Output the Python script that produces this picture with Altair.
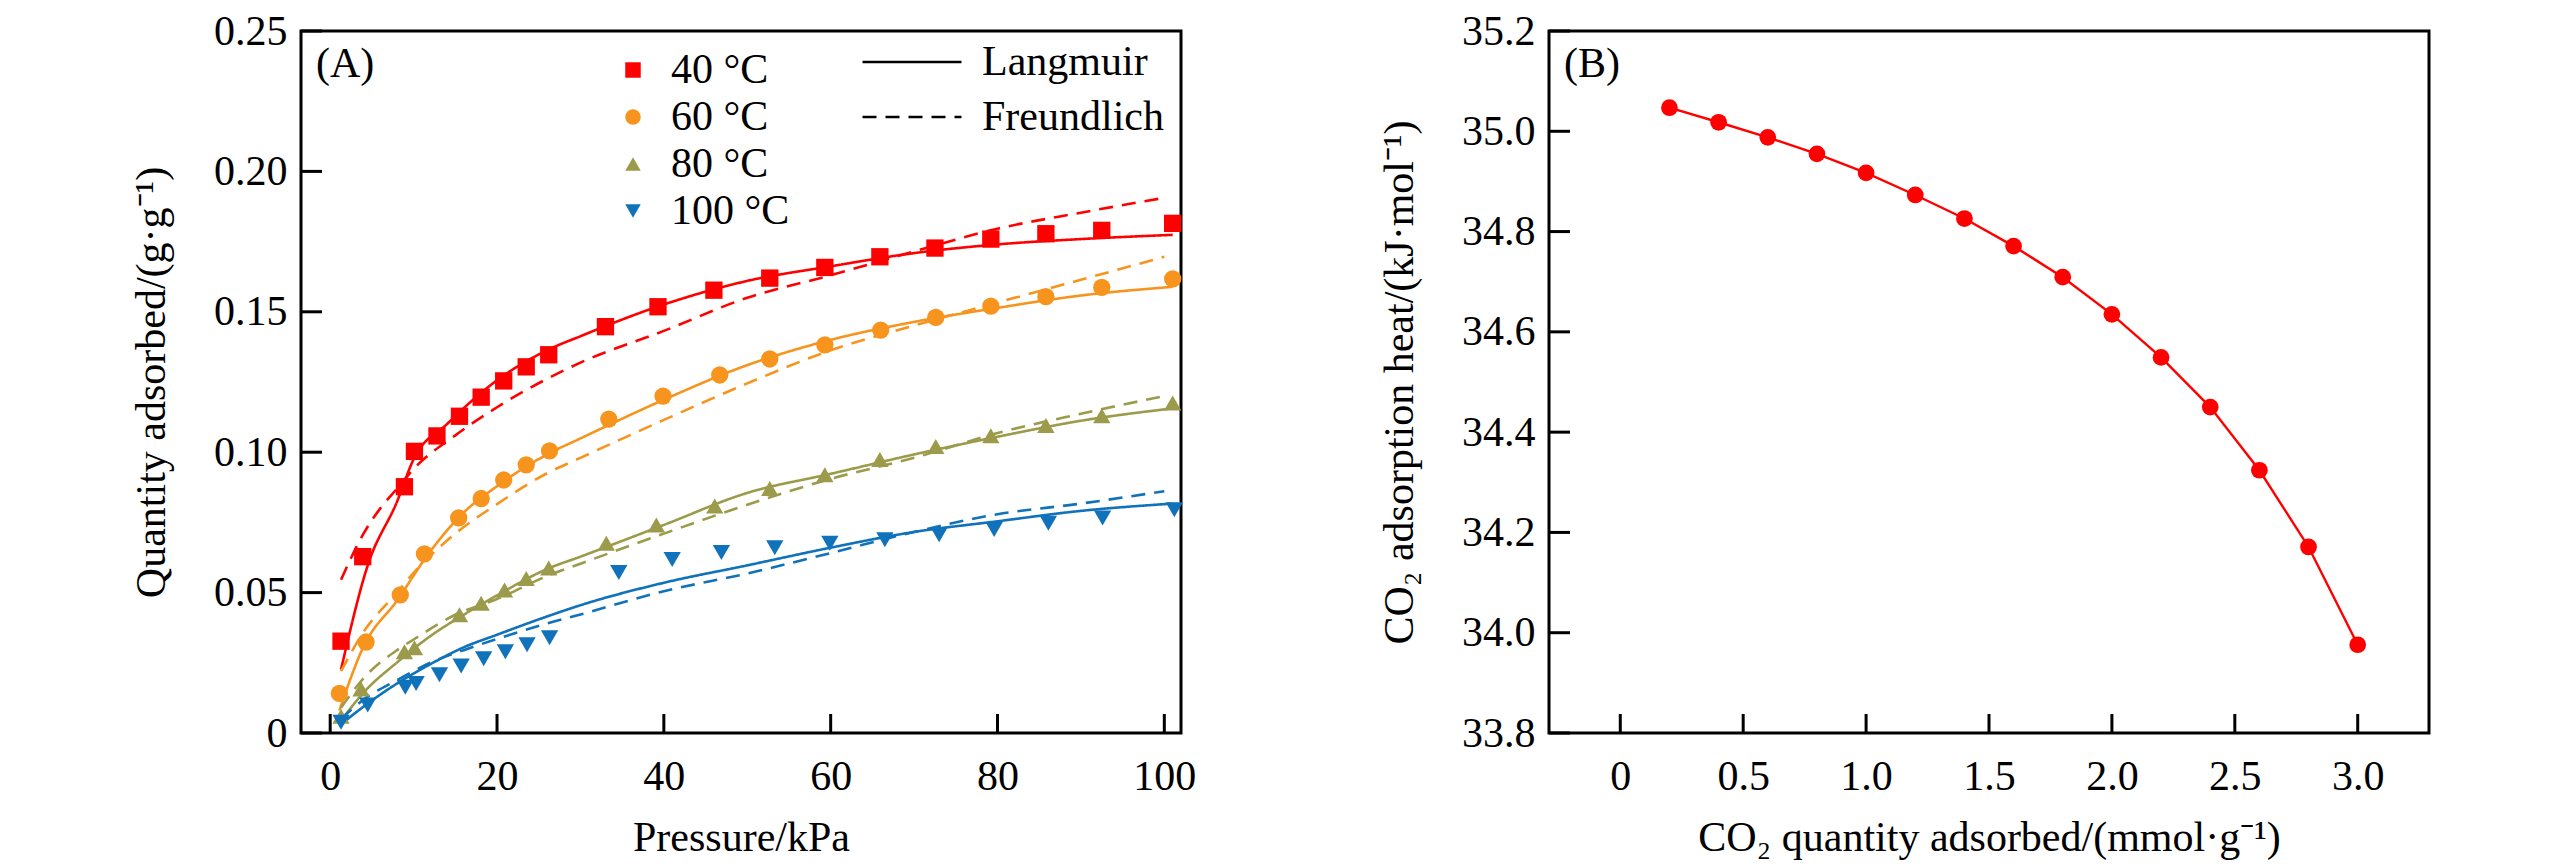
import altair as alt
import pandas as pd

# ---------------- Panel A: isotherm data ----------------
TEMPS = ["40 °C", "60 °C", "80 °C", "100 °C"]
COLORS = ["#FF0000", "#F7941E", "#9B9B4B", "#1072BA"]
SHAPES = ["square", "circle", "triangle-up", "triangle-down"]
MODELS = ["Langmuir", "Freundlich"]

P40 = [1.3, 3.9, 8.9, 10.1, 12.8, 15.5, 18.1, 20.8, 23.5, 26.2, 33.0, 39.3, 46.0, 52.7, 59.3, 65.9, 72.5, 79.2, 85.8, 92.5, 101.0]
Q40 = [0.0327, 0.0628, 0.0877, 0.1003, 0.1058, 0.1128, 0.1196, 0.1254, 0.1304, 0.1347, 0.1447, 0.1518, 0.1577, 0.1620, 0.1658, 0.1696, 0.1727, 0.1759, 0.1778, 0.1790, 0.1815]

P60 = [1.1, 4.3, 8.4, 11.3, 15.4, 18.1, 20.8, 23.5, 26.3, 33.4, 39.9, 46.7, 52.7, 59.3, 66.0, 72.6, 79.2, 85.8, 92.5, 101.0]
Q60 = [0.0141, 0.0324, 0.0492, 0.0638, 0.0766, 0.0835, 0.0901, 0.0955, 0.1005, 0.1118, 0.1200, 0.1275, 0.1332, 0.1382, 0.1435, 0.1480, 0.1520, 0.1554, 0.1587, 0.1617]

P80 = [1.3, 3.7, 8.9, 10.1, 15.5, 18.1, 20.9, 23.5, 26.2, 33.1, 39.1, 46.1, 52.7, 59.3, 65.9, 72.6, 79.2, 85.8, 92.5, 101.0]
Q80 = [0.0060, 0.0157, 0.0289, 0.0304, 0.0421, 0.0462, 0.0509, 0.0550, 0.0588, 0.0676, 0.0741, 0.0808, 0.0871, 0.0920, 0.0974, 0.1020, 0.1059, 0.1095, 0.1130, 0.1175]

P100 = [1.3, 4.5, 9.0, 10.3, 13.1, 15.7, 18.4, 21.0, 23.6, 26.3, 34.6, 41.0, 46.9, 53.3, 59.9, 66.5, 73.0, 79.6, 86.1, 92.6, 101.2]
Q100 = [0.0038, 0.0100, 0.0163, 0.0176, 0.0207, 0.0239, 0.0264, 0.0289, 0.0314, 0.0339, 0.0572, 0.0618, 0.0643, 0.0660, 0.0676, 0.0688, 0.0706, 0.0725, 0.0747, 0.0766, 0.0795]

# fitted curves
L40_P = [1.3, 4.5, 8, 10, 14, 20, 26, 30, 40, 50, 60, 70, 80, 90, 101]
L40_Q = [0.0226, 0.0597, 0.0823, 0.0975, 0.1100, 0.1256, 0.1363, 0.1413, 0.1526, 0.1610, 0.1662, 0.1709, 0.1740, 0.1759, 0.1774]
F40_P = [1.3, 4, 6, 8, 10, 15, 20, 30, 40, 50, 60, 70, 80, 90, 100]
F40_Q = [0.0546, 0.0710, 0.0800, 0.0870, 0.0940, 0.1060, 0.1160, 0.1319, 0.1432, 0.1550, 0.1630, 0.1715, 0.1796, 0.1853, 0.1906]

L60_P = [1.1, 4, 8, 12, 16, 20, 26, 30, 40, 50, 60, 70, 80, 90, 101]
L60_Q = [0.0080, 0.0308, 0.0471, 0.0647, 0.0785, 0.0879, 0.0992, 0.1049, 0.1187, 0.1310, 0.1400, 0.1464, 0.1514, 0.1558, 0.1589]
F60_P = [1.3, 4, 8, 10, 15, 20, 26, 30, 40, 50, 60, 70, 80, 90, 100]
F60_Q = [0.0220, 0.0360, 0.0500, 0.0570, 0.0710, 0.0815, 0.0925, 0.0980, 0.1115, 0.1245, 0.1363, 0.1451, 0.1533, 0.1614, 0.1696]

L80_P = [1.3, 4, 8, 12, 16, 20, 26, 30, 40, 50, 60, 70, 80, 90, 101]
L80_Q = [0.0044, 0.0144, 0.0251, 0.0345, 0.0421, 0.0490, 0.0584, 0.0628, 0.0741, 0.0855, 0.0923, 0.0992, 0.1055, 0.1112, 0.1156]
F80_P = [1.3, 4, 8, 10, 15, 20, 26, 30, 40, 50, 60, 70, 80, 90, 100]
F80_Q = [0.0090, 0.0195, 0.0295, 0.0333, 0.0421, 0.0477, 0.0559, 0.0603, 0.0710, 0.0813, 0.0905, 0.0980, 0.1068, 0.1137, 0.1200]

L100_P = [1.3, 4, 8, 12, 16, 20, 26, 30, 40, 50, 60, 70, 80, 90, 101]
L100_Q = [0.0031, 0.0094, 0.0176, 0.0245, 0.0305, 0.0350, 0.0415, 0.0455, 0.0535, 0.0597, 0.0660, 0.0716, 0.0754, 0.0791, 0.0817]
F100_P = [1.3, 4, 8, 12, 16, 20, 26, 30, 40, 50, 60, 70, 80, 90, 100]
F100_Q = [0.0050, 0.0119, 0.0188, 0.0250, 0.0295, 0.0335, 0.0390, 0.0422, 0.0505, 0.0568, 0.0641, 0.0716, 0.0779, 0.0817, 0.0861]

XTICKS_A = [0, 20, 40, 60, 80, 100]
YTICKS_A = [0, 0.05, 0.10, 0.15, 0.20, 0.25]

# ---------------- Panel B: adsorption heat ----------------
XB = [0.2, 0.4, 0.6, 0.8, 1.0, 1.2, 1.4, 1.6, 1.8, 2.0, 2.2, 2.4, 2.6, 2.8, 3.0]
YB = [35.047, 35.018, 34.988, 34.955, 34.917, 34.873, 34.826, 34.771, 34.709, 34.635, 34.549, 34.450, 34.324, 34.171, 33.976]
XTICKS_B = [0, 0.5, 1.0, 1.5, 2.0, 2.5, 3.0]
YTICKS_B = [33.8, 34.0, 34.2, 34.4, 34.6, 34.8, 35.0, 35.2]

FONT = "Liberation Serif"
FS = 42
W, H = 880, 702

# ---- build tables ----
pts = []
for t, P, Q in zip(TEMPS, [P40, P60, P80, P100], [Q40, Q60, Q80, Q100]):
    for p, q in zip(P, Q):
        pts.append({"P": p, "Q": q, "temp": t})
pts = pd.DataFrame(pts)

curves = []
curve_src = [
    ("40 °C", "Langmuir", L40_P, L40_Q), ("40 °C", "Freundlich", F40_P, F40_Q),
    ("60 °C", "Langmuir", L60_P, L60_Q), ("60 °C", "Freundlich", F60_P, F60_Q),
    ("80 °C", "Langmuir", L80_P, L80_Q), ("80 °C", "Freundlich", F80_P, F80_Q),
    ("100 °C", "Langmuir", L100_P, L100_Q), ("100 °C", "Freundlich", F100_P, F100_Q),
]
for t, m, P, Q in curve_src:
    for p, q in zip(P, Q):
        curves.append({"P": p, "Q": q, "fit_temp": t, "model": m})
curves = pd.DataFrame(curves)

xA = alt.Scale(domain=[-3.5, 102], nice=False, zero=False)
yA = alt.Scale(domain=[0, 0.25], nice=False, zero=False)
cscale = alt.Scale(domain=TEMPS, range=COLORS)
sscale = alt.Scale(domain=TEMPS, range=SHAPES)
dscale = alt.Scale(domain=MODELS, range=[[1, 0], [14, 9]])

axA_x = alt.Axis(values=XTICKS_A, title="Pressure/kPa", labelPadding=23, titlePadding=20, format="d")
axA_y = alt.Axis(values=YTICKS_A, title="Quantity adsorbed/(g·g⁻¹)", labelPadding=14, titlePadding=40,
                 labelExpr="datum.value == 0 ? '0' : format(datum.value, '.2f')")

leg1 = alt.Legend(title=None, orient="none", legendX=311, legendY=18, rowPadding=5,
                  symbolSize=240, labelOffset=17, padding=0, labelFont=FONT, labelFontSize=FS,
                  labelColor="black", labelLimit=400)
# wide horizontal stroke path so the sample line is long while rows stay close
leg2 = alt.Legend(title=None, orient="none", legendX=590, legendY=10, rowPadding=13,
                  symbolSize=1089, symbolType="M-3,0H3", symbolStrokeColor="black", symbolStrokeWidth=2.6,
                  symbolFillColor="transparent",
                  labelOffset=49, padding=0, labelFont=FONT, labelFontSize=FS, labelColor="black",
                  labelLimit=400)

XA = alt.X("P:Q", scale=xA, axis=axA_x)
YA = alt.Y("Q:Q", scale=yA, axis=axA_y)

line_layers = []
for t, c in zip(TEMPS, COLORS):
    line_layers.append(
        alt.Chart(curves).transform_filter(alt.datum.fit_temp == t).mark_line(
            strokeWidth=2.6, interpolate="monotone", color=c).encode(
            x=XA, y=YA,
            strokeDash=alt.StrokeDash("model:N", scale=dscale, legend=leg2),
        )
    )
points = alt.Chart(pts).mark_point(filled=True, size=300, opacity=1).encode(
    x=XA, y=YA,
    color=alt.Color("temp:N", scale=cscale, legend=leg1),
    shape=alt.Shape("temp:N", scale=sscale, legend=leg1),
)
tkxA = alt.Chart(pd.DataFrame({"P": XTICKS_A})).mark_rule(color="black", strokeWidth=3).encode(
    x=XA, y=alt.value(H), y2=alt.value(H - 19))
tkyA = alt.Chart(pd.DataFrame({"Q": YTICKS_A})).mark_rule(color="black", strokeWidth=3).encode(
    y=YA, x=alt.value(0), x2=alt.value(21))
labA = alt.Chart(pd.DataFrame({"t": ["(A)"]})).mark_text(
    align="left", baseline="middle", font=FONT, fontSize=FS, color="black").encode(
    text="t:N", x=alt.value(15), y=alt.value(33))

panelA = alt.layer(*line_layers, points, tkxA, tkyA, labA).properties(width=W, height=H)

# ---- panel B ----
dfB = pd.DataFrame({"x": XB, "y": YB})
xB = alt.Scale(domain=[-0.29, 3.29], nice=False, zero=False)
yB = alt.Scale(domain=[33.8, 35.2], nice=False, zero=False)
axB_x = alt.Axis(values=XTICKS_B, title="CO₂ quantity adsorbed/(mmol·g⁻¹)", labelPadding=23, titlePadding=20,
                 labelExpr="datum.value == 0 ? '0' : format(datum.value, '.1f')")
axB_y = alt.Axis(values=YTICKS_B, title="CO₂ adsorption heat/(kJ·mol⁻¹)", labelPadding=14, titlePadding=40,
                 labelExpr="format(datum.value, '.1f')")
XBe = alt.X("x:Q", scale=xB, axis=axB_x)
YBe = alt.Y("y:Q", scale=yB, axis=axB_y)
lineB = alt.Chart(dfB).mark_line(color="#FF0000", strokeWidth=2.4).encode(x=XBe, y=YBe)
ptsB = alt.Chart(dfB).mark_point(filled=True, size=280, opacity=1, color="#FF0000", shape="circle").encode(
    x=XBe, y=YBe)
tkxB = alt.Chart(pd.DataFrame({"x": XTICKS_B})).mark_rule(color="black", strokeWidth=3).encode(
    x=XBe, y=alt.value(H), y2=alt.value(H - 19))
tkyB = alt.Chart(pd.DataFrame({"y": YTICKS_B})).mark_rule(color="black", strokeWidth=3).encode(
    y=YBe, x=alt.value(0), x2=alt.value(21))
labB = alt.Chart(pd.DataFrame({"t": ["(B)"]})).mark_text(
    align="left", baseline="middle", font=FONT, fontSize=FS, color="black").encode(
    text="t:N", x=alt.value(15), y=alt.value(33))

panelB = alt.layer(lineB, ptsB, tkxB, tkyB, labB).properties(width=W, height=H)

chart = alt.hconcat(panelA, panelB, spacing=368, bounds="flush").properties(
    padding={"left": 121, "top": 0, "right": 10, "bottom": 5}, background="white"
).configure_view(stroke="black", strokeWidth=3).configure_axis(
    domain=False, ticks=False, grid=False,
    labelFont=FONT, labelFontSize=FS, labelColor="black",
    titleFont=FONT, titleFontSize=FS, titleFontWeight="normal", titleColor="black",
)

chart.save("out.html", embed_options={"renderer": "svg", "actions": False})
